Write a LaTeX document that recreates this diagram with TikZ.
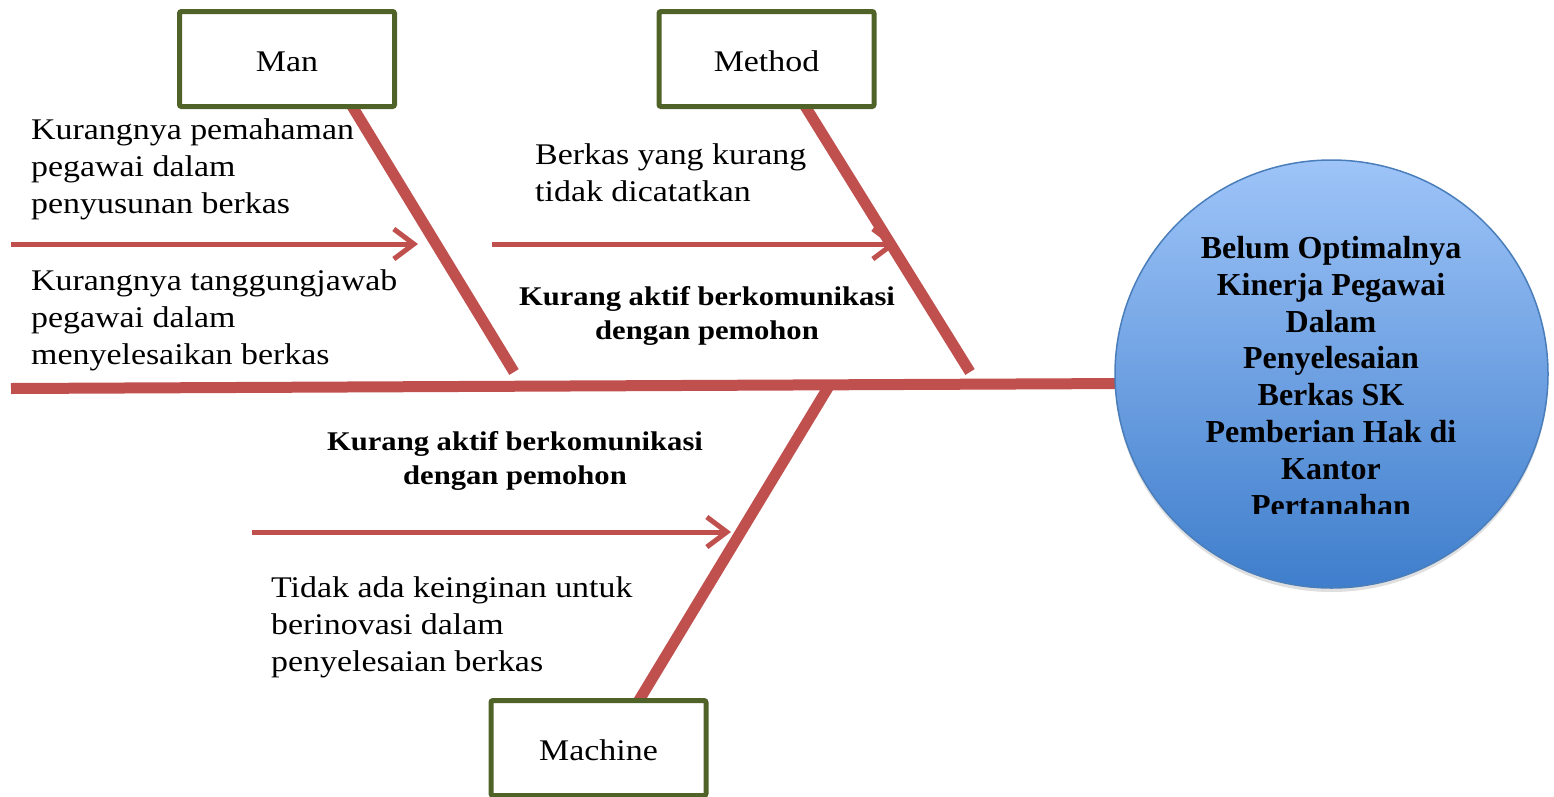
\documentclass[tikz,border=0pt]{standalone}
\usepackage{fontspec}
\setmainfont{Liberation Serif}
\newfontfamily\bodyfont[FakeStretch=1.13]{Liberation Serif}
\newfontfamily\causefont[FakeStretch=1.134]{Liberation Serif}
\usetikzlibrary{arrows.meta,shadows,shapes.geometric}
\definecolor{bonered}{HTML}{C0504D}
\definecolor{boxgreen}{HTML}{4F6228}
\definecolor{circtop}{HTML}{9EC4F8}
\definecolor{circbot}{HTML}{3F7ECC}
\definecolor{circline}{HTML}{4A7EBB}
\begin{document}
\begin{tikzpicture}[x=1pt,y=1pt,
  catbox/.style={draw=boxgreen, line width=5pt, fill=white, rounded corners=2pt,
    minimum width=215pt, minimum height=95pt, inner sep=0pt,
    font=\bodyfont\fontsize{30}{37}\selectfont, text height=24pt, text depth=0pt},
  bone/.style={draw=bonered, line width=11pt},
  causearrow/.style={draw=bonered, line width=5pt,
    -{Straight Barb[length=20pt,width=30pt]}},
  bodytext/.style={font=\bodyfont\fontsize{30}{37}\selectfont, align=left,
    inner sep=0pt, anchor=north west},
  boldtext/.style={font=\causefont\bfseries\fontsize{27}{34}\selectfont, align=center,
    inner sep=0pt, anchor=north},
  effectshape/.style={ellipse, draw=circline, line width=1.5pt, top color=circtop,
    bottom color=circbot, minimum width=433pt, minimum height=428pt, inner sep=0pt,
    drop shadow={opacity=0.25, shadow xshift=0pt, shadow yshift=-4pt}},
  effecttextstyle/.style={font=\bfseries\fontsize{32}{36.8}\selectfont, align=center,
    inner sep=0pt, anchor=north}
]
\useasboundingbox (0,0) rectangle (1554,-796);

% spine
\coordinate (tail) at (11,-388.5);
\coordinate (head) at (1125,-383.5);
\draw[bone] (tail) -- (head);

% bones
\coordinate (manA) at (352,-106);
\coordinate (manB) at (514,-372);
\coordinate (methA) at (805,-106);
\coordinate (methB) at (970,-372);
\coordinate (machA) at (829,-386);
\coordinate (machB) at (638,-702);
\draw[bone] (manA) -- (manB);
\draw[bone] (methA) -- (methB);
\draw[bone] (machA) -- (machB);

% category boxes
\node[catbox] (man) at (287,-59) {Man};
\node[catbox] (method) at (766.5,-59) {Method};
\node[catbox] (machine) at (598.5,-748) {Machine};

% cause arrows
\coordinate (a1s) at (11,-244);
\coordinate (a1e) at (418,-244);
\coordinate (a2s) at (492,-244);
\coordinate (a2e) at (897,-244);
\coordinate (a3s) at (252,-532);
\coordinate (a3e) at (731,-532);
\draw[causearrow] (a1s) -- (a1e);
\draw[causearrow] (a2s) -- (a2e);
\draw[causearrow] (a3s) -- (a3e);

% texts
\node[bodytext] (tA) at (31,-118.5) {Kurangnya pemahaman\\pegawai dalam\\penyusunan berkas};
\node[bodytext] (tB) at (31,-269.5) {Kurangnya tanggungjawab\\pegawai dalam\\menyelesaikan berkas};
\node[bodytext] (tC) at (535,-143.5) {Berkas yang kurang\\tidak dicatatkan};
\node[bodytext] (tD) at (271,-576.5) {Tidak ada keinginan untuk\\berinovasi dalam\\penyelesaian berkas};
\node[boldtext] (l1) at (707,-286.7) {Kurang aktif berkomunikasi\\dengan pemohon};
\node[boldtext] (l2) at (515,-431.7) {Kurang aktif berkomunikasi\\dengan pemohon};

% effect
\node[effectshape] (effect) at (1331.5,-374) {};
\begin{scope}
  \clip (1140,-220) rectangle (1520,-513);
  \node[effecttextstyle] (effecttext) at (1331,-236) {Belum Optimalnya\\Kinerja Pegawai\\Dalam\\Penyelesaian\\Berkas SK\\Pemberian Hak di\\Kantor\\Pertanahan};
\end{scope}
\end{tikzpicture}
\end{document}
